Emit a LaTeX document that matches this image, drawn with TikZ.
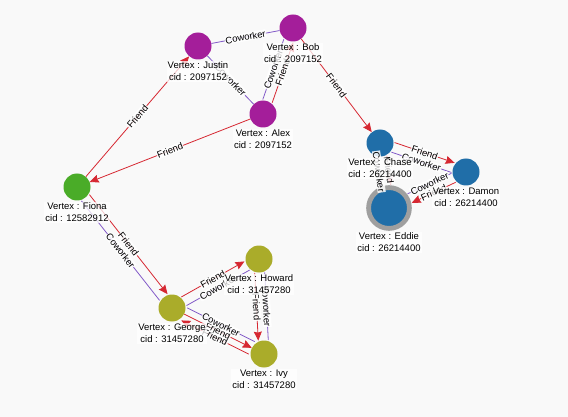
\documentclass[tikz,border=0pt]{standalone}
\usepackage{fontspec}
\setmainfont{Liberation Sans}
\usetikzlibrary{positioning,arrows.meta}

\definecolor{vpurple}{RGB}{164,30,154}
\definecolor{vgreen}{RGB}{74,172,40}
\definecolor{vblue}{RGB}{32,110,168}
\definecolor{volive}{RGB}{170,172,42}
\definecolor{friendc}{RGB}{214,40,50}
\definecolor{coworkc}{RGB}{130,90,200}
\definecolor{bgc}{RGB}{249,249,249}

\tikzset{%
	vertex/.style={circle, minimum size=27pt, inner sep=0pt},
	vlabel/.style={fill=white, fill opacity=.75, text opacity=1, align=center,
		inner sep=1pt, font=\fontsize{9.5}{12}\selectfont},
	friend/.style={draw=friendc, line width=.8pt, ->},
	coworker/.style={draw=coworkc, line width=.8pt},
	elabel/.style={sloped, midway, fill=white, fill opacity=.85, text opacity=1,
		inner sep=.6pt, font=\fontsize{9.5}{11}\selectfont},
}

\begin{document}
\begin{tikzpicture}[x=1pt, y=-1pt, >={Stealth[length=9pt,width=8pt,inset=1pt]}]
\useasboundingbox (0,0) rectangle (568,417);
\fill [bgc] (0,0) rectangle (568,417);

% vertices
\foreach \n/\x/\y/\col in {justin/198/46/vpurple, bob/293/28/vpurple, alex/263/114/vpurple,
	fiona/77/187/vgreen, george/172/308/volive, howard/259/259/volive, ivy/264/354/volive,
	chase/380/143/vblue, damon/466/172/vblue}
\node [vertex, fill=\col] (\n) at (\x,\y) {};

\node [vertex, fill=vblue, draw=gray!75, line width=4.8pt, minimum size=40.8pt] (eddie) at (389,208) {};

% friend edges
\foreach \a/\b/\dx/\dy in {alex/bob/4.7/1.6, bob/chase/0/0, alex/fiona/0/0, fiona/justin/0/0,
	fiona/george/4/-3.1, george/howard/-2.6/-4.3, george/ivy/0/0, ivy/george/-3/6.3,
	howard/ivy/-5/0.3, chase/damon/1.6/-4.8, damon/eddie/2.1/4.5, chase/eddie/5/-0.7}
\draw [friend, transform canvas={shift={(\dx,\dy)}}] (\a) -- node [elabel] {Friend} (\b);

% coworker edges
\foreach \a/\b/\dx/\dy in {justin/bob/0/0, justin/alex/0/0, alex/bob/-4.7/-1.6,
	fiona/george/-4/3.1, george/howard/2.6/4.3, george/ivy/3/-6.3, howard/ivy/5/-0.3,
	chase/damon/-1.6/4.8, damon/eddie/-2.1/-4.5, chase/eddie/-5/0.7}
\draw [coworker, transform canvas={shift={(\dx,\dy)}}] (\a) -- node [elabel] {Coworker} (\b);

% vertex labels
\foreach \n/\vname/\cid in {justin/Justin/2097152, bob/Bob/2097152, alex/Alex/2097152,
	fiona/Fiona/12582912, george/George/31457280, howard/Howard/31457280, ivy/Ivy/31457280,
	chase/Chase/26214400, damon/Damon/26214400, eddie/Eddie/26214400}
\node [vlabel, below=1pt of \n] (\n-label) {Vertex : \vname\\cid : \cid};

\end{tikzpicture}
\end{document}
